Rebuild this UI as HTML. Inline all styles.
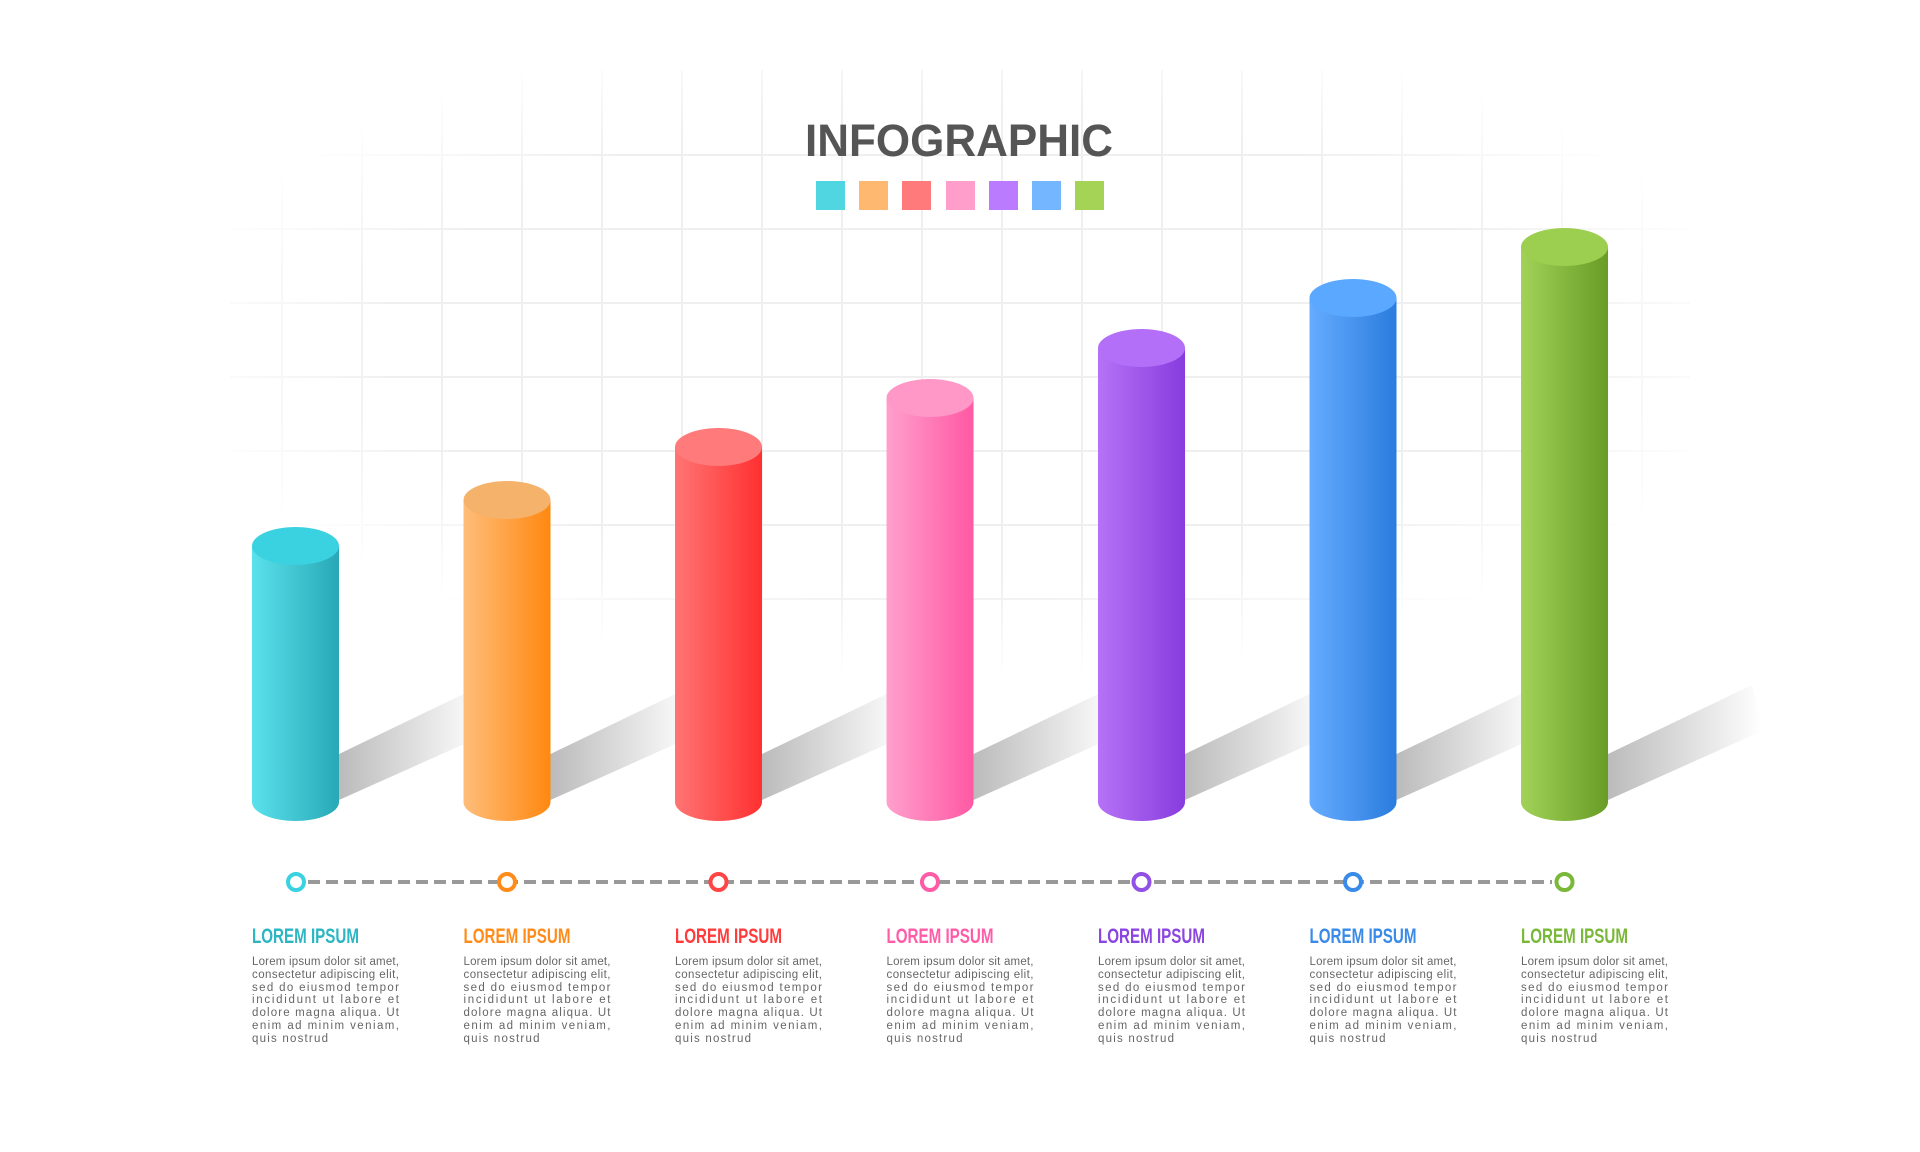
<!DOCTYPE html>
<html><head><meta charset="utf-8"><style>html,body{margin:0;padding:0;background:#fff}svg{display:block}</style></head>
<body>
<svg width="1920" height="1152" viewBox="0 0 1920 1152" xmlns="http://www.w3.org/2000/svg">
<defs>
<radialGradient id="gm" cx="0.5" cy="0.45" r="0.55">
<stop offset="0" stop-color="#fff"/><stop offset="0.7" stop-color="#fff"/><stop offset="1" stop-color="#000"/></radialGradient>
<mask id="gmask"><rect x="230" y="70" width="1460" height="610" fill="url(#gm)"/></mask>
<linearGradient id="sh" x1="0" y1="0" x2="1" y2="0"><stop offset="0" stop-color="#bbb"/><stop offset="1" stop-color="#bbb" stop-opacity="0"/></linearGradient>
<linearGradient id="c0" x1="0" x2="1"><stop offset="0" stop-color="#5ae2ec"/><stop offset="1" stop-color="#28a8b6"/></linearGradient>
<linearGradient id="c1" x1="0" x2="1"><stop offset="0" stop-color="#ffbd7a"/><stop offset="1" stop-color="#ff8810"/></linearGradient>
<linearGradient id="c2" x1="0" x2="1"><stop offset="0" stop-color="#ff7474"/><stop offset="1" stop-color="#ff3030"/></linearGradient>
<linearGradient id="c3" x1="0" x2="1"><stop offset="0" stop-color="#ffa0cc"/><stop offset="1" stop-color="#ff58a4"/></linearGradient>
<linearGradient id="c4" x1="0" x2="1"><stop offset="0" stop-color="#b672f6"/><stop offset="1" stop-color="#873cde"/></linearGradient>
<linearGradient id="c5" x1="0" x2="1"><stop offset="0" stop-color="#66acff"/><stop offset="1" stop-color="#2a7cde"/></linearGradient>
<linearGradient id="c6" x1="0" x2="1"><stop offset="0" stop-color="#a2d258"/><stop offset="1" stop-color="#689c26"/></linearGradient>
</defs>
<g mask="url(#gmask)" stroke="#efefef" stroke-width="2">
<path d="M282 70V673M362 70V673M442 70V673M522 70V673M602 70V673M682 70V673M762 70V673M842 70V673M922 70V673M1002 70V673M1082 70V673M1162 70V673M1242 70V673M1322 70V673M1402 70V673M1482 70V673M1562 70V673M1642 70V673"/>
<path d="M230 155H1690M230 229H1690M230 303H1690M230 377H1690M230 451H1690M230 525H1690M230 599H1690"/>
</g>
<text x="959" y="156" text-anchor="middle" font-family="Liberation Sans, sans-serif" font-weight="bold" font-size="45" fill="#555" textLength="308" lengthAdjust="spacingAndGlyphs">INFOGRAPHIC</text>
<g>
<rect x="816" y="181" width="29" height="29" fill="#4fd6e0"/>
<rect x="859" y="181" width="29" height="29" fill="#ffb870"/>
<rect x="902" y="181" width="29" height="29" fill="#ff7a7a"/>
<rect x="946" y="181" width="29" height="29" fill="#ff9ecb"/>
<rect x="989" y="181" width="29" height="29" fill="#bb7bff"/>
<rect x="1032" y="181" width="29" height="29" fill="#74b6ff"/>
<rect x="1075" y="181" width="29" height="29" fill="#a4d356"/>
</g>
<g fill="url(#sh)">
<path id="s0" d="M339 754L472 690L482 736L339 800Z"/>
<use href="#s0" x="211.5"/>
<use href="#s0" x="423"/>
<use href="#s0" x="634.5"/>
<use href="#s0" x="846"/>
<use href="#s0" x="1057.5"/>
<path d="M1608 754L1752 685L1762 731L1608 800Z"/>
</g>
<g>
<path d="M252 546V802A43.5 19 0 0 0 339 802V546Z" fill="url(#c0)"/><ellipse cx="295.5" cy="546" rx="43.5" ry="19" fill="#3ad2e0"/>
<path d="M463.5 500V802A43.5 19 0 0 0 550.5 802V500Z" fill="url(#c1)"/><ellipse cx="507" cy="500" rx="43.5" ry="19" fill="#f5b26a"/>
<path d="M675 447V802A43.5 19 0 0 0 762 802V447Z" fill="url(#c2)"/><ellipse cx="718.5" cy="447" rx="43.5" ry="19" fill="#ff7a7a"/>
<path d="M886.5 398V802A43.5 19 0 0 0 973.5 802V398Z" fill="url(#c3)"/><ellipse cx="930" cy="398" rx="43.5" ry="19" fill="#ff98c6"/>
<path d="M1098 348V802A43.5 19 0 0 0 1185 802V348Z" fill="url(#c4)"/><ellipse cx="1141.5" cy="348" rx="43.5" ry="19" fill="#b46ff8"/>
<path d="M1309.5 298V802A43.5 19 0 0 0 1396.5 802V298Z" fill="url(#c5)"/><ellipse cx="1353" cy="298" rx="43.5" ry="19" fill="#5aa8ff"/>
<path d="M1521 247V802A43.5 19 0 0 0 1608 802V247Z" fill="url(#c6)"/><ellipse cx="1564.5" cy="247" rx="43.5" ry="19" fill="#9ccf50"/>
</g>
<line x1="308" y1="882" x2="1552" y2="882" stroke="#999" stroke-width="4" stroke-dasharray="12 6"/>
<g fill="#fff" stroke-width="4">
<circle cx="296" cy="882" r="8" stroke="#3ad2e0"/>
<circle cx="507" cy="882" r="8" stroke="#ff8c1a"/>
<circle cx="718.5" cy="882" r="8" stroke="#ff4545"/>
<circle cx="930" cy="882" r="8" stroke="#ff5ca8"/>
<circle cx="1141.5" cy="882" r="8" stroke="#9150e6"/>
<circle cx="1353" cy="882" r="8" stroke="#3a8ae8"/>
<circle cx="1564.5" cy="882" r="8" stroke="#7ab83a"/>
</g>
<g font-family="Liberation Sans Narrow, Liberation Sans, sans-serif" font-weight="bold" font-size="21">
<text x="252" y="943" fill="#2cb6c4" textLength="107" lengthAdjust="spacingAndGlyphs">LOREM IPSUM</text>
<text x="463.5" y="943" fill="#ff8c1a" textLength="107" lengthAdjust="spacingAndGlyphs">LOREM IPSUM</text>
<text x="675" y="943" fill="#ff3b3b" textLength="107" lengthAdjust="spacingAndGlyphs">LOREM IPSUM</text>
<text x="886.5" y="943" fill="#ff5ca8" textLength="107" lengthAdjust="spacingAndGlyphs">LOREM IPSUM</text>
<text x="1098" y="943" fill="#8b45e0" textLength="107" lengthAdjust="spacingAndGlyphs">LOREM IPSUM</text>
<text x="1309.5" y="943" fill="#3a8ae8" textLength="107" lengthAdjust="spacingAndGlyphs">LOREM IPSUM</text>
<text x="1521" y="943" fill="#7ab83a" textLength="107" lengthAdjust="spacingAndGlyphs">LOREM IPSUM</text>
</g>
<g font-family="Liberation Sans, sans-serif" font-size="11.5" fill="#666">
<g id="b0">
<text x="252" y="965" textLength="147" lengthAdjust="spacing">Lorem ipsum dolor sit amet,</text>
<text x="252" y="978" textLength="147" lengthAdjust="spacing">consectetur adipiscing elit,</text>
<text x="252" y="991" textLength="147" lengthAdjust="spacing">sed do eiusmod tempor</text>
<text x="252" y="1003" textLength="147" lengthAdjust="spacing">incididunt ut labore et</text>
<text x="252" y="1016" textLength="147" lengthAdjust="spacing">dolore magna aliqua. Ut</text>
<text x="252" y="1029" textLength="147" lengthAdjust="spacing">enim ad minim veniam,</text>
<text x="252" y="1042" textLength="76" lengthAdjust="spacing">quis nostrud</text>
</g>
<use href="#b0" x="211.5"/>
<use href="#b0" x="423"/>
<use href="#b0" x="634.5"/>
<use href="#b0" x="846"/>
<use href="#b0" x="1057.5"/>
<use href="#b0" x="1269"/>
</g>
</svg>
</body></html>
